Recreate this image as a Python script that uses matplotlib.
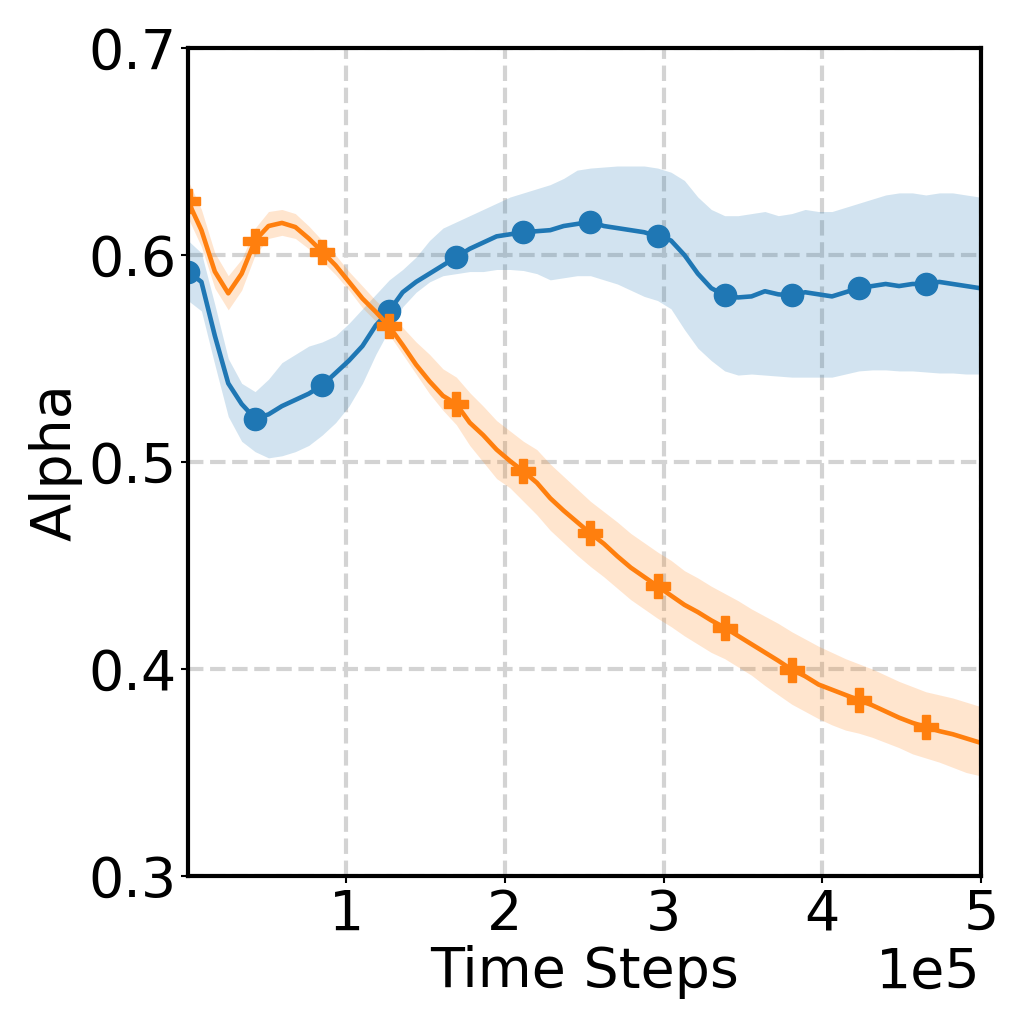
import numpy as np
from matplotlib import pyplot as plt

# time steps (one point every 8452 steps)
steps = np.arange(60) * 8452 + 400

blue_mean = [0.592, 0.587, 0.561, 0.538, 0.528, 0.521, 0.523, 0.527, 0.530, 0.533,
             0.537, 0.543, 0.549, 0.556, 0.566, 0.573, 0.582, 0.587, 0.591, 0.595,
             0.599, 0.603, 0.606, 0.609, 0.610, 0.611, 0.6115, 0.612, 0.614, 0.615,
             0.616, 0.614, 0.613, 0.612, 0.611, 0.609, 0.607, 0.600, 0.591, 0.584,
             0.5805, 0.5795, 0.580, 0.5825, 0.581, 0.5805, 0.582, 0.581, 0.580, 0.582,
             0.584, 0.585, 0.586, 0.585, 0.586, 0.586, 0.587, 0.586, 0.585, 0.584]
blue_upper = [0.607, 0.601, 0.576, 0.550, 0.538, 0.534, 0.540, 0.548, 0.552, 0.556,
              0.558, 0.561, 0.567, 0.574, 0.581, 0.588, 0.593, 0.599, 0.607, 0.613,
              0.616, 0.619, 0.622, 0.625, 0.628, 0.630, 0.632, 0.634, 0.637, 0.641,
              0.642, 0.6425, 0.643, 0.643, 0.643, 0.642, 0.640, 0.636, 0.628, 0.622,
              0.619, 0.619, 0.620, 0.621, 0.619, 0.620, 0.622, 0.621, 0.621, 0.623,
              0.625, 0.627, 0.629, 0.630, 0.630, 0.629, 0.630, 0.630, 0.629, 0.628]
blue_lower = [0.578, 0.573, 0.547, 0.522, 0.510, 0.505, 0.502, 0.503, 0.505, 0.508,
              0.513, 0.519, 0.527, 0.538, 0.552, 0.564, 0.575, 0.582, 0.587, 0.590,
              0.591, 0.592, 0.592, 0.593, 0.593, 0.5925, 0.591, 0.588, 0.589, 0.590,
              0.590, 0.588, 0.586, 0.583, 0.580, 0.578, 0.574, 0.564, 0.555, 0.549,
              0.544, 0.542, 0.5425, 0.542, 0.5415, 0.541, 0.541, 0.541, 0.541, 0.5425,
              0.544, 0.5445, 0.5445, 0.544, 0.544, 0.5435, 0.543, 0.543, 0.5425, 0.5425]

orange_mean = [0.626, 0.612, 0.592, 0.5815, 0.591, 0.607, 0.614, 0.6155, 0.6135, 0.608,
               0.6016, 0.595, 0.587, 0.579, 0.5725, 0.5655, 0.5565, 0.547, 0.539, 0.532,
               0.528, 0.519, 0.513, 0.506, 0.5005, 0.4955, 0.490, 0.4825, 0.4765, 0.471,
               0.4655, 0.4605, 0.4545, 0.449, 0.4445, 0.440, 0.4355, 0.431, 0.4275, 0.4235,
               0.420, 0.416, 0.412, 0.408, 0.404, 0.3997, 0.3965, 0.3925, 0.390, 0.3875,
               0.385, 0.3825, 0.3795, 0.3765, 0.374, 0.372, 0.370, 0.3685, 0.3665, 0.3645]
orange_upper = [0.636, 0.622, 0.601, 0.590, 0.598, 0.613, 0.621, 0.622, 0.620, 0.614,
                0.607, 0.600, 0.592, 0.585, 0.578, 0.572, 0.565, 0.558, 0.552, 0.545,
                0.541, 0.5335, 0.527, 0.520, 0.515, 0.510, 0.506, 0.499, 0.493, 0.487,
                0.481, 0.476, 0.471, 0.4655, 0.461, 0.4565, 0.4525, 0.4475, 0.444, 0.440,
                0.4365, 0.433, 0.429, 0.4255, 0.422, 0.418, 0.4145, 0.411, 0.408, 0.405,
                0.4025, 0.400, 0.397, 0.394, 0.3915, 0.389, 0.3875, 0.386, 0.384, 0.382]
orange_lower = [0.618, 0.604, 0.584, 0.5735, 0.583, 0.600, 0.608, 0.6095, 0.608, 0.603,
                0.597, 0.5905, 0.583, 0.5745, 0.568, 0.5615, 0.552, 0.5425, 0.533, 0.525,
                0.518, 0.508, 0.500, 0.492, 0.4875, 0.481, 0.4745, 0.467, 0.461, 0.455,
                0.4495, 0.4445, 0.439, 0.4335, 0.429, 0.4245, 0.4205, 0.416, 0.412, 0.408,
                0.405, 0.401, 0.397, 0.392, 0.3875, 0.383, 0.3795, 0.376, 0.373, 0.3705,
                0.369, 0.367, 0.3645, 0.362, 0.359, 0.357, 0.355, 0.3525, 0.350, 0.3485]

xticks = [1e5, 2e5, 3e5, 4e5, 5e5]
yticks = [0.3, 0.4, 0.5, 0.6, 0.7]

fig = plt.figure(figsize=(10.29, 10.30), dpi=100)
ax = fig.add_axes([0.1827, 0.1495, 0.7707, 0.8039])

ax.fill_between(steps, blue_lower, blue_upper, color='#1f77b4', alpha=0.2, lw=0)
ax.fill_between(steps, orange_lower, orange_upper, color='#ff7f0e', alpha=0.2, lw=0)
ax.plot(steps, blue_mean, color='#1f77b4', lw=3.3, marker='o', markersize=16, markevery=5)
ax.plot(steps, orange_mean, color='#ff7f0e', lw=3.3, marker='P', markersize=17, markevery=5)

ax.set_xlim(steps[0], 5e5)
ax.set_ylim(0.3, 0.7)
ax.set_xticks(xticks)
ax.set_yticks(yticks)
ax.ticklabel_format(axis='x', style='sci', scilimits=(0, 0))
ax.grid(True, linestyle='--', color='lightgray', lw=3)
ax.set_axisbelow(True)

ax.set_xlabel('Time Steps', fontsize=40, labelpad=2)
ax.set_ylabel('Alpha', fontsize=40)
ax.tick_params(labelsize=40, width=1.5, length=5)
ax.xaxis.get_offset_text().set_fontsize(40)
for s in ax.spines.values():
    s.set_linewidth(3)

fig.savefig('out.png', dpi=100)
